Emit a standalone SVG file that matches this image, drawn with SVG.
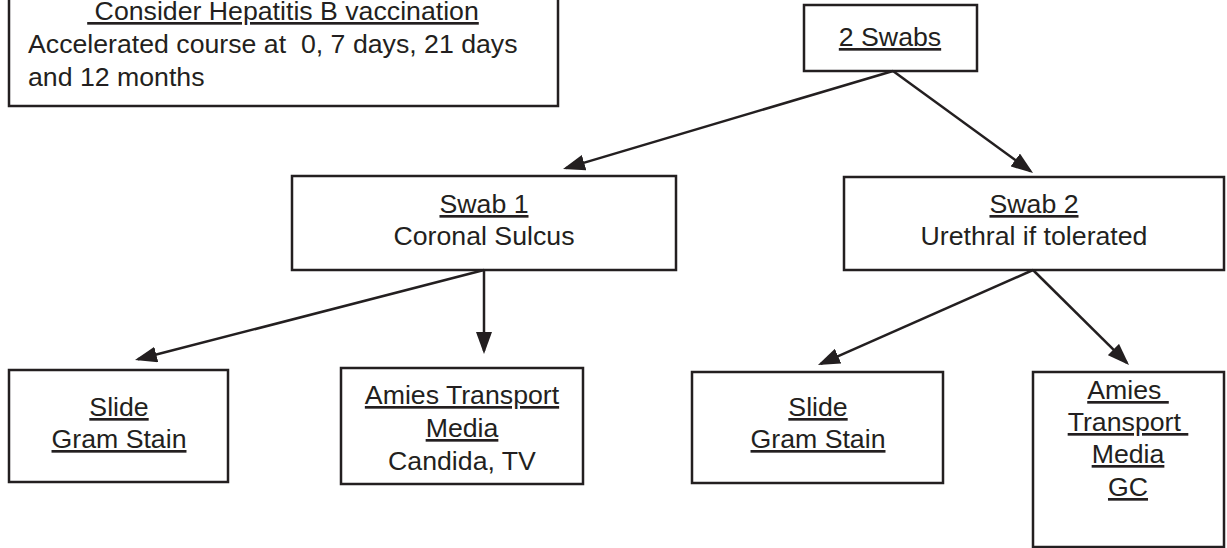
<svg xmlns="http://www.w3.org/2000/svg" width="1227" height="548" viewBox="0 0 1227 548">
<style>
.box{fill:#fff;stroke:#231f20;stroke-width:2.5}
.t{font-family:"Liberation Sans",Arial,sans-serif;font-size:26.7px;fill:#231f20;white-space:pre}
.c{text-anchor:middle}
.u{text-decoration:underline}
.conn line{stroke:#231f20;stroke-width:2.5;fill:none}
</style>
<defs>
<marker id="ah" markerUnits="userSpaceOnUse" markerWidth="22" markerHeight="16" refX="19" refY="8" orient="auto" viewBox="0 0 22 16">
<path d="M0,0 L22,8 L0,16 z" fill="#231f20"/>
</marker>
</defs>
<g id="hepb">
<rect class="box" x="9" y="-5" width="549" height="111"/>
<text class="t c u" x="283" y="20" xml:space="preserve"> Consider Hepatitis B vaccination</text>
<text class="t" x="28" y="53" xml:space="preserve">Accelerated course at  0, 7 days, 21 days</text>
<text class="t" x="28" y="86">and 12 months</text>
</g>
<g id="swabs">
<rect class="box" x="804" y="5" width="173" height="66"/>
<text class="t c u" x="890" y="46">2 Swabs</text>
</g>
<g id="swab1">
<rect class="box" x="292" y="176" width="384" height="94"/>
<text class="t c u" x="484" y="213">Swab 1</text>
<text class="t c" x="484" y="245">Coronal Sulcus</text>
</g>
<g id="swab2">
<rect class="box" x="844" y="177" width="380" height="93"/>
<text class="t c u" x="1034" y="213">Swab 2</text>
<text class="t c" x="1034" y="245">Urethral if tolerated</text>
</g>
<g id="slide1">
<rect class="box" x="9" y="370" width="219" height="112"/>
<text class="t c u" x="119" y="416">Slide</text>
<text class="t c u" x="119" y="448">Gram Stain</text>
</g>
<g id="amies1">
<rect class="box" x="341" y="368" width="242" height="116"/>
<text class="t c u" x="462" y="404">Amies Transport</text>
<text class="t c u" x="462" y="437">Media</text>
<text class="t c" x="462" y="470">Candida, TV</text>
</g>
<g id="slide2">
<rect class="box" x="692" y="372" width="251" height="111"/>
<text class="t c u" x="818" y="416">Slide</text>
<text class="t c u" x="818" y="448">Gram Stain</text>
</g>
<g id="amies2">
<rect class="box" x="1033" y="372" width="191" height="175"/>
<text class="t c u" x="1128" y="399" xml:space="preserve">Amies </text>
<text class="t c u" x="1128" y="431" xml:space="preserve">Transport </text>
<text class="t c u" x="1128" y="463">Media</text>
<text class="t c u" x="1128" y="496">GC</text>
</g>
<g id="connectors" class="conn">
<line x1="893" y1="71" x2="565.9" y2="168.1" marker-end="url(#ah)"/>
<line x1="893" y1="71" x2="1030.6" y2="171.2" marker-end="url(#ah)"/>
<line x1="484" y1="270" x2="137.9" y2="359.3" marker-end="url(#ah)"/>
<line x1="484" y1="270" x2="484" y2="351" marker-end="url(#ah)"/>
<line x1="1033" y1="270" x2="820.7" y2="363.8" marker-end="url(#ah)"/>
<line x1="1033" y1="270" x2="1126.9" y2="362.9" marker-end="url(#ah)"/>
</g>
</svg>
